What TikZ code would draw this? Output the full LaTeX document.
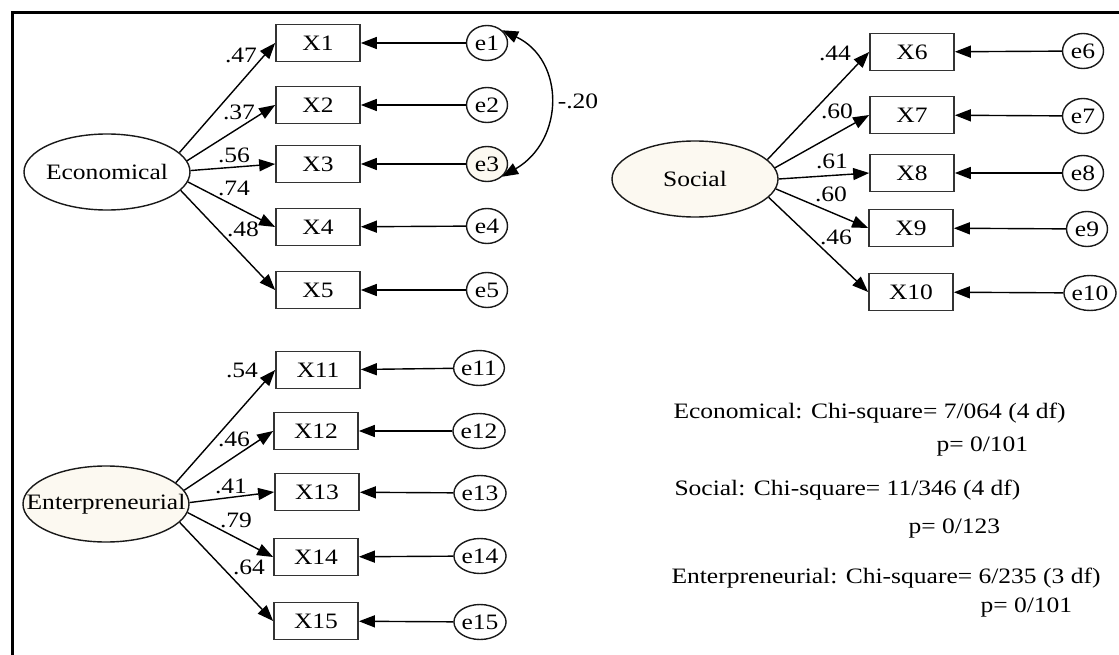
\documentclass[tikz,border=0pt]{standalone}
\usepackage{fontspec}
\setmainfont{Liberation Serif}[FakeStretch=1.16]
\usetikzlibrary{arrows.meta}
\usetikzlibrary{shapes}

\definecolor{shade}{RGB}{252,249,241}

\tikzset{
    latent/.style={ellipse,draw=black!90,line width=1.4pt,minimum width=166pt,minimum height=76pt,inner sep=0pt},
    indicator/.style={rectangle,draw=black!80,line width=1.7pt,minimum width=84pt,minimum height=37pt,inner sep=0pt},
    error/.style={ellipse,draw=black!90,line width=1.4pt,minimum width=41pt,minimum height=35pt,inner sep=0pt},
    path/.style={-{Triangle[length=16pt,width=12pt]},line width=1.4pt},
    every node/.style={font=\fontsize{22}{25}\selectfont}
}

\begin{document}
\begin{tikzpicture}[x=1pt,y=-1pt]
    %draw frame
    \useasboundingbox (0,0) rectangle (1119,655);
    \draw[line width=3pt] (12,655) -- (12,13) -- (1119,13);

    %draw latent variables
    \node[latent] (econ) at (107,172) {\makebox[0pt]{Economical}};
    \node[latent,fill=shade] (soc) at (695,179) {\makebox[0pt]{Social}};
    \node[latent,fill=shade] (ent) at (106,504) {\makebox[0pt]{Enterpreneurial}};

    %draw economical items
    \foreach \i/\y/\ey/\f/\a in {1/43/43/white/15,2/105/105/white/8,3/164/164/shade/1,4/227/226/white/-7,5/290/290/white/-14}
    {
        \node[indicator] (X\i) at (318,\y) {X\i};
        \node[error,fill=\f] (e\i) at (487,\ey) {e\i};
        \draw[path] (e\i) -- (X\i);
        \draw[path] (econ.\a) -- (X\i.west);
    }

    %draw social items
    \foreach \i/\x/\y/\ex/\ey/\a in {6/912/52/1083/51/15,7/912/115/1083/116/8,8/912/173/1083/173/0,9/911/228/1087/229/-7,10/911/292/1090/293/-14}
    {
        \node[indicator] (X\i) at (\x,\y) {X\i};
        \node[error] (e\i) at (\ex,\ey) {e\i};
        \draw[path] (e\i) -- (X\i);
        \draw[path] (soc.\a) -- (X\i.west);
    }

    %draw enterpreneurial items
    \foreach \i/\x/\y/\ex/\ey/\a in {11/318/370/479/368/17,12/316/431/479/431/10,13/317/492/480/493/1,14/316/557/480/556/-6,15/316/621/480/622/-14}
    {
        \node[indicator] (X\i) at (\x,\y) {X\i};
        \node[error] (e\i) at (\ex,\ey) {e\i};
        \draw[path] (e\i) -- (X\i);
        \draw[path] (ent.\a) -- (X\i.west);
    }

    %draw covariance
    \draw[{Triangle[length=16pt,width=12pt]}-{Triangle[length=16pt,width=12pt]},line width=1.4pt]
        (e1.40) .. controls (565,60) and (565,140) .. (e3.-40);
    \node (cov) at (578,101) {-.20};

    %draw loadings
    \foreach \i/\l/\x/\y in {1/.47/241/55,2/.37/239/112,3/.56/234/155,4/.74/234/188,5/.48/243/229,
        6/.44/835/53,7/.60/837/111,8/.61/832/161,9/.60/831/194,10/.46/836/237,
        11/.54/242/370,12/.46/234/439,13/.41/231/486,14/.79/236/520,15/.64/249/567}
    \node (w\i) at (\x,\y) {\l};

    %draw fit statistics
    \node[anchor=base west] (fit1) at (670,418) {Economical: Chi-square= 7/064 (4 df)};
    \node[anchor=base west] (p1) at (933,451) {p= 0/101};
    \node[anchor=base west] (fit2) at (671,495) {Social: Chi-square= 11/346 (4 df)};
    \node[anchor=base west] (p2) at (905,533) {p= 0/123};
    \node[anchor=base west] (fit3) at (668,583) {Enterpreneurial: Chi-square= 6/235 (3 df)};
    \node[anchor=base west] (p3) at (977,612) {p= 0/101};

\end{tikzpicture}
\end{document}
